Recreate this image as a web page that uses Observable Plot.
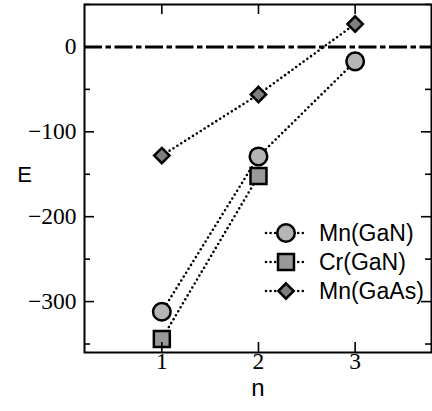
<!DOCTYPE html>
<html><head><meta charset="utf-8">
<script src="https://cdn.jsdelivr.net/npm/d3@7"></script>
<script src="https://cdn.jsdelivr.net/npm/@observablehq/plot@0.6"></script>
<style>body{margin:0;background:#fff}</style>
</head><body><div id="chart"></div>
<script>
// ---- data ----
const nValues = [1, 2, 3];
const mnGaN = [-312, -129, -17];
const crGaN = [-344, -152];
const mnGaAs = [-128, -56, 27];
const seriesNames = ["Mn(GaN)", "Cr(GaN)", "Mn(GaAs)"];
const xTicks = [1, 2, 3];
const yTicks = [0, -100, -200, -300];
const yMinorTicks = [50, -50, -150, -250, -350];

// ---- styles ----
const seriesSymbols = ["circle", "square", "diamond2"];
const seriesFills = ["#b5b5b5", "#999999", "#7f7f7f"];
const seriesR = [8.8, 9, 6.9];

const allSeries = [mnGaN, crGaN, mnGaAs];
const rows = allSeries.flatMap((vals, i) => vals.map((E, j) => ({n: nValues[j], E, series: seriesNames[i]})));

const W = 432, H = 411, mL = 84, mR = 1, mT = 4, mB = 59;
const fw = W - mL - mR, fh = H - mT - mB;
const fmt = d => d < 0 ? "\u2212" + Math.abs(d) : String(d);
const dotStyle = {stroke: "black", strokeWidth: 2.6, strokeDasharray: "0,4.6", strokeLinecap: "round"};
const serif = "'Liberation Serif', 'Times New Roman', serif";
const sans = "'Liberation Sans', Arial, sans-serif";

const marks = [
  Plot.ruleY([0], {stroke: "black", strokeWidth: 3, strokeDasharray: "18,3.5,5.5,3.5"}),
  Plot.line(rows, {x: "n", y: "E", z: "series", ...dotStyle}),
  ...seriesNames.map((s, i) => Plot.dot(rows.filter(r => r.series === s), {
    x: "n", y: "E", symbol: seriesSymbols[i], r: seriesR[i], fill: seriesFills[i], stroke: "black", strokeWidth: 2.5
  })),
  Plot.frame({stroke: "black", strokeWidth: 2}),
  // inward ticks
  Plot.tickX(xTicks, {x: d => d, insetTop: fh - 10, stroke: "black", strokeWidth: 1.6}),
  Plot.tickX(xTicks, {x: d => d, insetBottom: fh - 10, stroke: "black", strokeWidth: 1.6}),
  Plot.tickY(yTicks, {y: d => d, insetRight: fw - 10, stroke: "black", strokeWidth: 1.6}),
  Plot.tickY(yTicks, {y: d => d, insetLeft: fw - 10, stroke: "black", strokeWidth: 1.6}),
  Plot.tickY(yMinorTicks, {y: d => d, insetRight: fw - 6, stroke: "black", strokeWidth: 1.6}),
  Plot.tickY(yMinorTicks, {y: d => d, insetLeft: fw - 6, stroke: "black", strokeWidth: 1.6}),
  // tick labels
  Plot.text(xTicks, {x: d => d, text: fmt, frameAnchor: "bottom", dy: 16, textAnchor: "middle",
    fontFamily: serif, fontSize: 23.5, fill: "black"}),
  Plot.text(yTicks, {y: d => d, text: fmt, frameAnchor: "left", dx: -8, textAnchor: "end",
    fontFamily: serif, fontSize: 23.5, fill: "black"}),
  // axis titles
  Plot.text(["E"], {text: d => d, frameAnchor: "left", dx: -60, dy: -3.5, textAnchor: "middle",
    fontFamily: sans, fontSize: 22, fill: "black"}),
  Plot.text(["n"], {text: d => d, frameAnchor: "bottom", dx: 0, dy: 43, textAnchor: "middle",
    fontFamily: sans, fontSize: 24, fill: "black"})
];

const svg = Plot.plot({
  width: W, height: H,
  marginLeft: mL, marginRight: mR, marginTop: mT, marginBottom: mB,
  style: {background: "white", overflow: "visible"},
  x: {domain: [0.2, 3.79], axis: null},
  y: {domain: [-360, 50], axis: null},
  marks
});

// ---- legend (inside the frame) ----
const lg = d3.select(svg).append("g").attr("text-anchor", "start");
const legX0 = 266, legX1 = 307, legMX = 286, legTX = 319, legY0 = 233, legDY = 29;
const symMap = {circle: d3.symbolCircle, square: d3.symbolSquare, diamond2: d3.symbolDiamond2};
seriesNames.forEach((s, i) => {
  const y = legY0 + i * legDY;
  lg.append("line").attr("x1", legX0).attr("x2", legX1).attr("y1", y).attr("y2", y)
    .attr("stroke", "black").attr("stroke-width", 2.6).attr("stroke-dasharray", "0,4.6")
    .attr("stroke-linecap", "round");
  lg.append("path").attr("transform", `translate(${legMX},${y})`)
    .attr("d", d3.symbol(symMap[seriesSymbols[i]], Math.PI * seriesR[i] * seriesR[i])())
    .attr("fill", seriesFills[i]).attr("stroke", "black").attr("stroke-width", 2.5);
  lg.append("text").attr("x", legTX).attr("y", y).attr("dy", "0.35em")
    .attr("text-anchor", "start")
    .style("font-family", sans).style("font-size", "23px").attr("fill", "black").text(s);
});

document.getElementById("chart").appendChild(svg);
</script>
</body></html>
